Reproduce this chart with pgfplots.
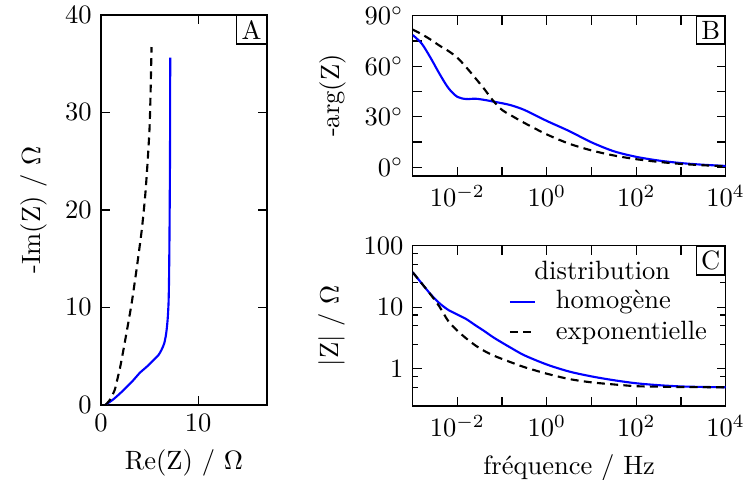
\documentclass[border=0pt]{standalone}
\usepackage{fontspec}
\usepackage{pgfplots}
\pgfplotsset{compat=1.18}

\pgfplotstableread{
f       zh      zx      ph     px
0.001   37.0    37.0    78.5   81.7
0.001585 24.5   24.5    73.5   79.0
0.002512 16.3   16.1    65.0   75.8
0.003981 11.6   10.2    55.5   72.2
0.00631  9.0    5.9     47.0   69.0
0.01     7.6    4.15    41.8   65.0
0.01585  6.4    3.1     40.5   59.3
0.02512  5.1    2.4     40.7   53.0
0.03981  4.1    1.95    40.0   46.5
0.0631   3.25   1.65    39.0   39.5
0.1      2.65   1.44    38.0   34.0
0.1585   2.18   1.27    36.8   30.8
0.3162   1.65   1.06    34.0   26.3
1        1.17   0.83    27.5   19.5
3.162    0.9    0.68    21.5   14.0
10       0.75   0.6     14.8   10.0
31.62    0.65   0.555   9.5    7.0
100      0.58   0.52    6.2    4.8
316.2    0.54   0.51    4.0    3.2
1000     0.515  0.503   2.5    2.0
3162     0.505  0.501   1.5    1.2
10000    0.5    0.5     0.8    0.6
}\bode

\begin{document}
\begin{tikzpicture}
\useasboundingbox (0pt,0pt) rectangle (281.1pt,181.1pt);
\pgfplotsset{
  every axis/.append style={
    scale only axis,
    axis line style={line width=0.6pt},
    major tick length=3.4pt, minor tick length=2pt,
    every tick/.style={black,line width=0.5pt},
    tick align=inside,
  },
  blueline/.style={blue, line width=0.8pt},
  dashline/.style={black, line width=0.8pt, dash pattern=on 3pt off 2pt},
}
% Panel A
\begin{axis}[at={(38.1pt,28.3pt)}, anchor=south west,
  width=62.6pt, height=147.2pt,
  xmin=0, xmax=17.06, ymin=0, ymax=40,
  xtick={0,10}, ytick={0,10,20,30,40},
  xlabel={Re(Z) / $\Omega$}, ylabel={-Im(Z) / $\Omega$}]
\addplot[blueline, smooth, tension=0.4] coordinates {
(0.45,0) (1.3,0.6) (2.3,1.5) (3.2,2.4) (4.0,3.3) (4.8,4.0) (5.4,4.6) (5.9,5.1)
(6.2,5.6) (6.5,6.3) (6.7,7.3) (6.85,8.7) (6.95,10.5) (7.0,13) (7.05,18) (7.1,26) (7.12,35.6)};
\addplot[dashline, smooth, tension=0.4] coordinates {
(0.45,0) (0.9,0.5) (1.4,1.5) (1.7,2.7) (2.0,4) (2.5,6.7) (3.15,10.4) (3.7,14.2)
(4.2,18) (4.55,21.5) (4.8,25) (5.0,28.5) (5.1,32) (5.2,36.7)};
\node[draw, fill=white, anchor=north east, inner sep=1.8pt, line width=0.5pt] at (rel axis cs:1,1) {A};
\end{axis}
% Panel B
\begin{axis}[at={(155.7pt,114.8pt)}, anchor=south west,
  width=118.1pt, height=60.4pt,
  xmode=log, xmin=0.001, xmax=10000, ymin=-5, ymax=90,
  xtick={0.001,0.01,0.1,1,10,100,1000,10000},
  xticklabels={,$10^{-2}$,,$10^{0}$,,$10^{2}$,,$10^{4}$},
  xminorticks=false,
  ytick={0,15,30,45,60,75,90},
  yticklabels={$0^\circ$,,$30^\circ$,,$60^\circ$,,$90^\circ$},
  ylabel={-arg(Z)}]
\addplot[blueline, smooth] table[x=f, y=ph] {\bode};
\addplot[dashline, smooth] table[x=f, y=px] {\bode};
\node[draw, fill=white, anchor=north east, inner sep=1.8pt, line width=0.5pt] at (rel axis cs:1,1) {B};
\end{axis}
% Panel C
\begin{axis}[at={(155.7pt,28.0pt)}, anchor=south west,
  width=118.1pt, height=60.4pt,
  xmode=log, ymode=log, xmin=0.001, xmax=10000, ymin=0.25, ymax=100,
  xtick={0.001,0.01,0.1,1,10,100,1000,10000},
  xticklabels={,$10^{-2}$,,$10^{0}$,,$10^{2}$,,$10^{4}$},
  xminorticks=false,
  ytick={1,10,100}, yticklabels={1,10,100},
  minor ytick={0.5,0.75,2.5,5,7.5,25,50,75},
  xlabel={fréquence / Hz}, ylabel={|Z| / $\Omega$},
  legend style={draw=none, fill=none, at={(rel axis cs:0.28,0.79)}, anchor=north west,
    row sep=-1pt},
  legend cell align=left,
  legend image code/.code={\draw[#1] (0pt,0pt) -- (9.4pt,0pt); \path[draw=none,fill=none] (0pt,0pt) -- (15.4pt,0pt);}]
\addplot[blueline, smooth] table[x=f, y=zh] {\bode};
\addlegendentry{homogène}
\addplot[dashline, smooth] table[x=f, y=zx] {\bode};
\addlegendentry{exponentielle}
\node[draw, fill=white, anchor=north east, inner sep=1.8pt, line width=0.5pt] at (rel axis cs:1,1) {C};
\node at (rel axis cs:0.606,0.848) {distribution};
\end{axis}
\end{tikzpicture}
\end{document}
